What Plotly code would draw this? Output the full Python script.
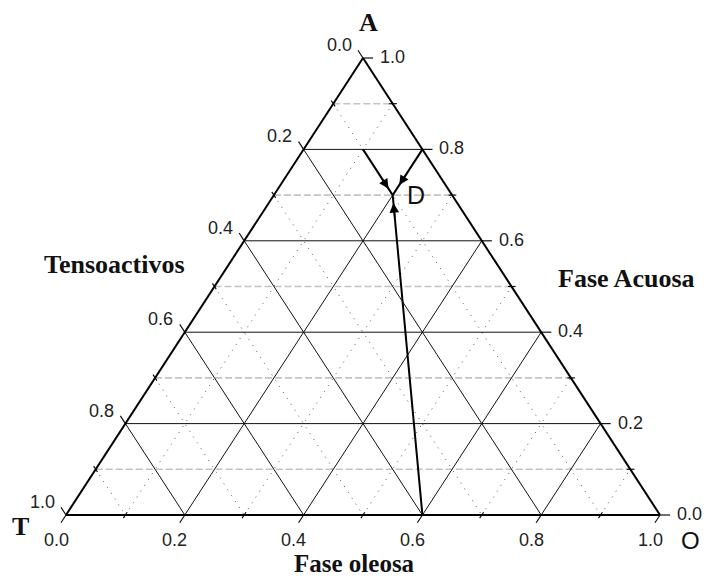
import plotly.graph_objects as go

# Axis ticks (fractions) and their labels
tick_values = [0.0, 0.2, 0.4, 0.6, 0.8, 1.0]
tick_labels = ["0.0", "0.2", "0.4", "0.6", "0.8", "1.0"]
minor_values = [0.1, 0.3, 0.5, 0.7, 0.9]
grid_major = [0.2, 0.4, 0.6, 0.8]

# Composition path (A = Fase Acuosa, T = Tensoactivos, O = Fase oleosa) ending at point D
path_A = [0.0, 0.7]
path_T = [0.4, 0.1]
path_O = [0.6, 0.2]

# Guide segments converging on D
guide_T_A = [0.8, 0.7]
guide_T_T = [0.1, 0.1]
guide_T_O = [0.1, 0.2]
guide_O_A = [0.8, 0.7]
guide_O_T = [0.0, 0.1]
guide_O_O = [0.2, 0.2]


def xy(a, t, o):
    s = a + t + o
    return (o + a / 2.0) / s, a / s


def seg_trace(segments, color, width, dash="solid"):
    xs, ys = [], []
    for p, q in segments:
        x0, y0 = xy(*p)
        x1, y1 = xy(*q)
        xs += [x0, x1, None]
        ys += [y0, y1, None]
    return go.Scatter(x=xs, y=ys, mode="lines", hoverinfo="skip",
                      line=dict(color=color, width=width, dash=dash), showlegend=False)


fig = go.Figure()

# grid lines: constant A (horizontal), constant T, constant O
horiz_minor, diag_minor, major = [], [], []
for v in minor_values:
    horiz_minor.append(((v, 1 - v, 0), (v, 0, 1 - v)))
    diag_minor.append(((1 - v, v, 0), (0, v, 1 - v)))
    diag_minor.append(((0, 1 - v, v), (1 - v, 0, v)))
for v in grid_major:
    major.append(((v, 1 - v, 0), (v, 0, 1 - v)))
    major.append(((1 - v, v, 0), (0, v, 1 - v)))
    major.append(((0, 1 - v, v), (1 - v, 0, v)))

fig.add_trace(seg_trace(horiz_minor, "#c4c4c4", 1.6, "7px,3px"))
fig.add_trace(seg_trace(diag_minor, "#555555", 1, "1px,6px"))
fig.add_trace(seg_trace(major, "#111111", 1))

# ticks on the three edges
ticks = []
all_vals = sorted(set(tick_values + minor_values))
for v in all_vals:
    is_major = any(abs(v - m) < 1e-9 for m in tick_values)
    out = 0.017 if is_major else 0.007
    inn = 0.0 if is_major else 0.006
    # left edge (T): constant-T line, outward up-left
    ticks.append(((1 - v - inn, v, inn), (1 - v + out, v, -out)))
    # right edge (A): constant-A line, outward right
    ticks.append(((v, inn, 1 - v - inn), (v, -out, 1 - v + out)))
    # bottom edge (O): constant-O line, outward down
    ticks.append(((inn, 1 - v - inn, v), (-out, 1 - v + out, v)))
fig.add_trace(seg_trace(ticks, "#111111", 1.2))

# triangle border
border = [((1, 0, 0), (0, 1, 0)), ((0, 1, 0), (0, 0, 1)), ((0, 0, 1), (1, 0, 0))]
fig.add_trace(seg_trace(border, "#000000", 2))

# composition path and guides
for A, T, O in [(path_A, path_T, path_O), (guide_T_A, guide_T_T, guide_T_O),
                (guide_O_A, guide_O_T, guide_O_O)]:
    pts = [xy(a, t, o) for a, t, o in zip(A, T, O)]
    fig.add_trace(go.Scatter(x=[p[0] for p in pts], y=[p[1] for p in pts], mode="lines",
                             line=dict(color="#000000", width=2), hoverinfo="skip",
                             showlegend=False))

annotations = []

# arrowheads pointing toward D
for A, T, O, f in [(path_A, path_T, path_O, 0.975), (guide_T_A, guide_T_T, guide_T_O, 0.86),
                   (guide_O_A, guide_O_T, guide_O_O, 0.78)]:
    a0, t0, o0 = A[0], T[0], O[0]
    a1, t1, o1 = A[1], T[1], O[1]
    tip = xy(a0 + f * (a1 - a0), t0 + f * (t1 - t0), o0 + f * (o1 - o0))
    g = f - 0.05 if f > 0.9 else f - 0.25
    tail = xy(a0 + g * (a1 - a0), t0 + g * (t1 - t0), o0 + g * (o1 - o0))
    annotations.append(dict(x=tip[0], y=tip[1], ax=tail[0], ay=tail[1], xref="x", yref="y",
                            axref="x", ayref="y", showarrow=True, arrowhead=2,
                            arrowsize=1.2, arrowwidth=1.6, arrowcolor="#000000", text="",
                            standoff=0))

# label for D
dx, dy = xy(path_A[1], path_T[1], path_O[1])
annotations.append(dict(x=dx, y=dy, xref="x", yref="y", text="D", showarrow=False,
                        xshift=23, yshift=0, xanchor="center", yanchor="middle",
                        font=dict(family="Liberation Sans", size=25, color="#111111")))

tick_font = dict(family="Liberation Sans", size=18, color="#222222")
for v, lab in zip(tick_values, tick_labels):
    # Tensoactivos (left edge)
    x, y = xy(1 - v, v, 0)
    annotations.append(dict(x=x, y=y, xref="x", yref="y", text=lab, showarrow=False,
                            xanchor="center", yanchor="middle",
                            xshift=-24, yshift=13, font=tick_font))
    # Fase Acuosa (right edge)
    x, y = xy(v, 0, 1 - v)
    annotations.append(dict(x=x, y=y, xref="x", yref="y", text=lab, showarrow=False,
                            xanchor="left", yanchor="middle", xshift=15, yshift=1,
                            font=tick_font))
    # Fase oleosa (bottom edge)
    x, y = xy(0, 1 - v, v)
    annotations.append(dict(x=x, y=y, xref="x", yref="y", text=lab, showarrow=False,
                            xanchor="center", yanchor="middle",
                            xshift=-10, yshift=-25, font=tick_font))

W, H = 704, 579
title_font = dict(family="Liberation Serif", size=26, color="#111111")


def paper_text(text, px, py, font):
    annotations.append(dict(x=px / W, y=1 - py / H, xref="paper", yref="paper", text=text,
                            xanchor="center", yanchor="middle", showarrow=False, font=font))


paper_text("<b>A</b>", 368, 23, title_font)
paper_text("<b>T</b>", 20, 526, title_font)
paper_text("O", 690, 540, dict(family="Liberation Sans", size=24, color="#111111"))
paper_text("<b>Tensoactivos</b>", 114, 264, title_font)
paper_text("<b>Fase Acuosa</b>", 626, 278, title_font)
paper_text("<b>Fase oleosa</b>", 354, 563, dict(family="Liberation Serif", size=25,
                                                color="#111111"))

# pixel mapping: T vertex at (66, 515), O vertex at (660, 515), A vertex at (363, 58)
fig.update_xaxes(range=[-66 / 594, 638 / 594], visible=False, fixedrange=True)
fig.update_yaxes(range=[-64 / 457, 515 / 457], visible=False, fixedrange=True)
fig.update_layout(width=W, height=H, autosize=False, margin=dict(l=0, r=0, t=0, b=0),
                  plot_bgcolor="white", paper_bgcolor="white", annotations=annotations,
                  showlegend=False)

fig.write_html("out.html")
